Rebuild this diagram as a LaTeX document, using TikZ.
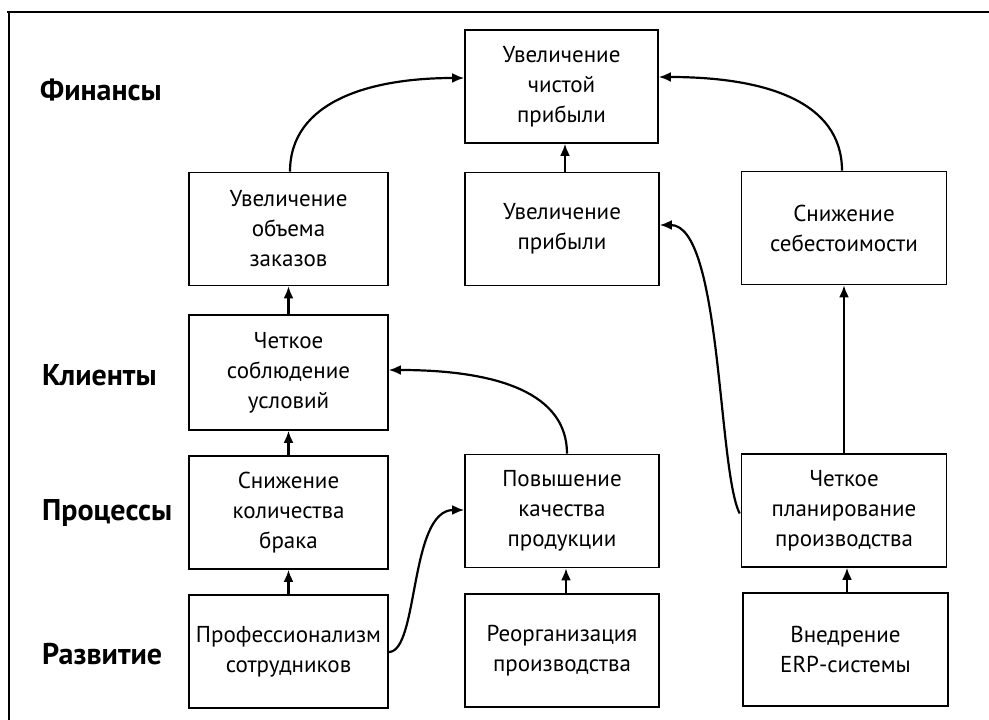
\documentclass[tikz,border=0pt]{standalone}
\usepackage{fontspec}
\setmainfont{PT Sans}
\usetikzlibrary{arrows.meta,calc}
\begin{document}
\begin{tikzpicture}[x=1pt,y=1pt,
  box/.style={draw,line width=1.6pt,inner sep=0pt,align=center,minimum height=113pt,font=\fontsize{23}{30}\selectfont},
  lev/.style={anchor=west,inner sep=0pt,font=\fontsize{30}{34}\selectfont\bfseries},
  conn/.style={line width=2.2pt,-{Latex[length=12pt,width=10pt]}}]
\useasboundingbox (0,0) rectangle (989,720);
\draw[line width=1.6pt] (7,708) -- (989,708);
\draw[line width=1.6pt] (9,708) -- (9,0);
% level labels
\node[lev] (lf) at (40,630) {Финансы};
\node[lev] (lk) at (42,345) {Клиенты};
\node[lev] (lp) at (42,207) {Процессы};
\node[lev] (lr) at (42,66) {Развитие};
% boxes
\node[box,minimum width=193pt] (top) at (561.5,633.5) {Увеличение\\чистой\\прибыли};
\node[box,minimum width=199pt] (a2) at (288.5,491) {Увеличение\\объема\\заказов};
\node[box,minimum width=194pt] (b2) at (562,491) {Увеличение\\прибыли};
\node[box,minimum width=205pt] (c2) at (844,492) {Снижение\\себестоимости};
\node[box,minimum width=199pt,minimum height=115pt] (a3) at (288.5,347.5) {Четкое\\соблюдение\\условий};
\node[box,minimum width=199pt] (a4) at (288.5,207.5) {Снижение\\количества\\брака};
\node[box,minimum width=194pt] (b4) at (562,209) {Повышение\\качества\\продукции};
\node[box,minimum width=205pt] (c4) at (844,209.5) {Четкое\\планирование\\производства};
\node[box,minimum width=199pt] (a5) at (288.5,68.5) {Профессионализм\\сотрудников};
\node[box,minimum width=194pt] (b5) at (562,69.5) {Реорганизация\\производства};
\node[box,minimum width=205pt] (c5) at (845.5,70.5) {Внедрение\\ERP-системы};
% straight connectors
\draw[conn] (a3.north) -- (a2.south);
\draw[conn] (a4.north) -- (a3.south);
\draw[conn] (a5.north) -- (a4.south);
\draw[conn] ($(b2.north)+(3,0)$) -- ($(top.south)+(3.5,0)$);
\draw[conn] (c4.north) -- (c2.south);
\draw[conn] ($(b5.north)+(4,0)$) -- ($(b4.south)+(4,0)$);
\draw[conn] ($(c5.north)+(1.5,0)$) -- ($(c4.south)+(3,0)$);
% curved connectors
\draw[conn] ($(a2.north)+(1.5,0)$) .. controls +(0,70) and +(-95,0) .. ($(top.west)+(0,8.5)$);
\draw[conn] ($(c2.north)+(-2,0)$) .. controls +(0,70) and +(105,0) .. ($(top.east)+(0,9.5)$);
\draw[conn] ($(a5.east)+(0,-0.5)$) .. controls +(30,0) and +(-55,0) .. ($(b4.west)+(0,1)$);
\draw[conn] ($(b4.north)+(5,0)$) .. controls +(0,60) and +(110,0) .. ($(a3.east)+(0,2.5)$);
\draw[conn] ($(c4.west)+(-1,-3)$) .. controls +(-22,43) and +(62,0) .. ($(b2.east)+(0,4)$);
\end{tikzpicture}
\end{document}
